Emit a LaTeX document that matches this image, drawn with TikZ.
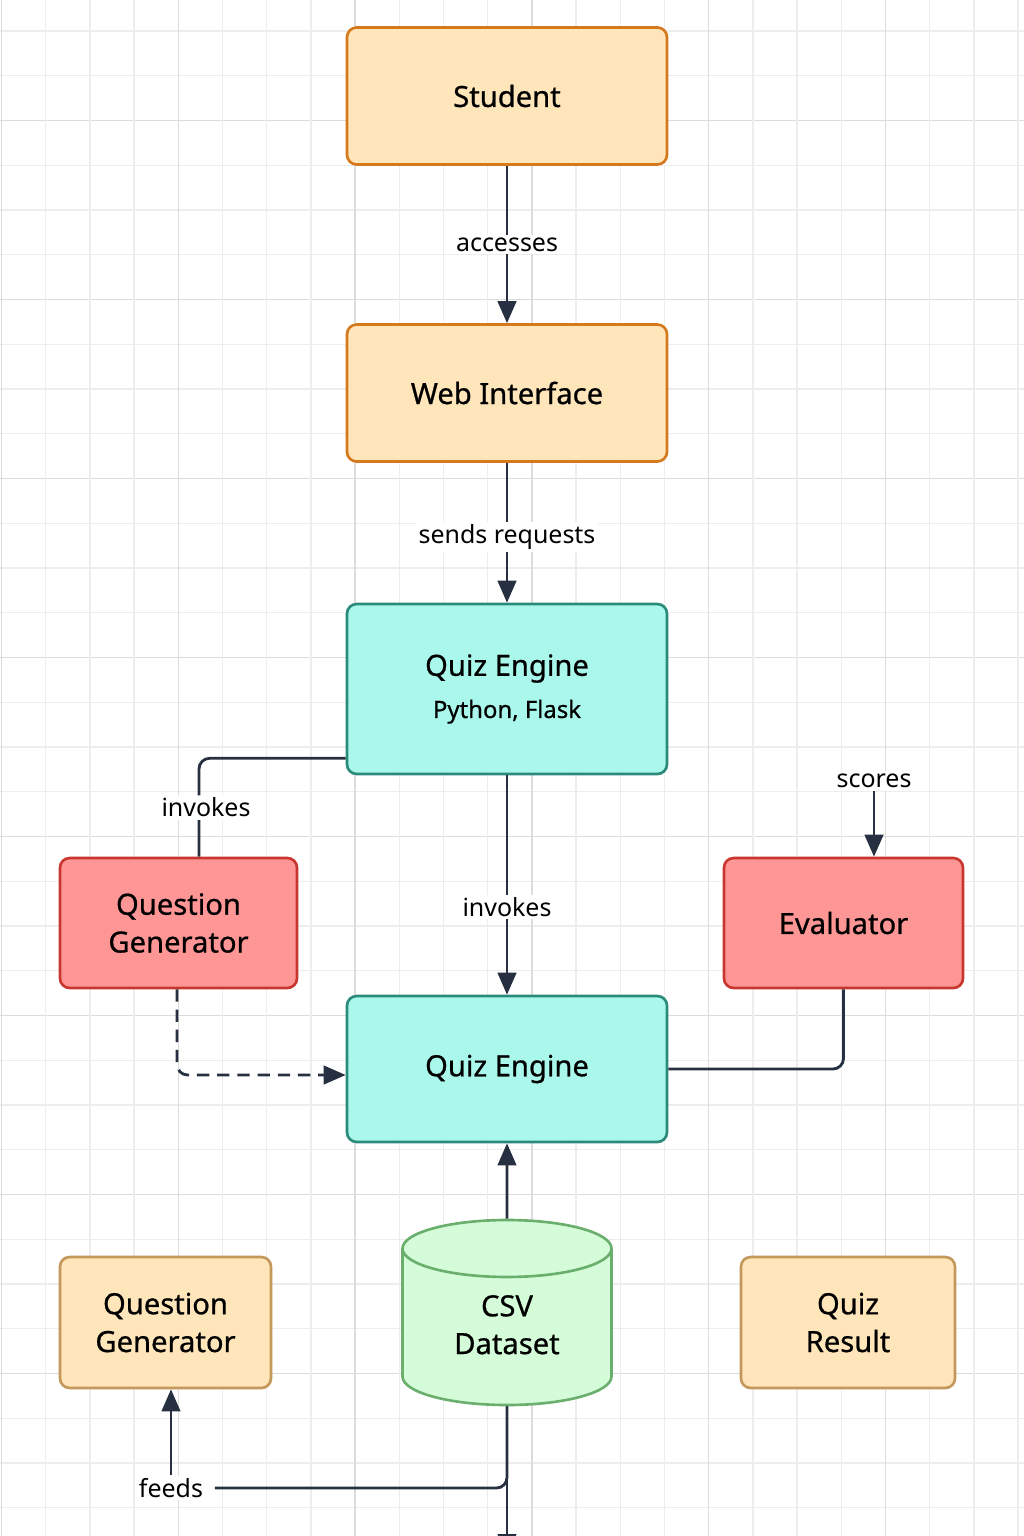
\documentclass[tikz,border=0pt]{standalone}
\usepackage{fontspec}
\setmainfont{Noto Sans}
\newfontfamily\titlefont[FakeBold=0.7]{Noto Sans}
\usetikzlibrary{arrows.meta,shapes.geometric}

\definecolor{userfill}{HTML}{FEE5BA}
\definecolor{userline}{HTML}{D6791C}
\definecolor{storeline}{HTML}{C4975A}
\definecolor{enginefill}{HTML}{A9F8EB}
\definecolor{engineline}{HTML}{2C8A7A}
\definecolor{logicfill}{HTML}{FF9696}
\definecolor{logicline}{HTML}{C8362F}
\definecolor{csvfill}{HTML}{D5FCD9}
\definecolor{csvline}{HTML}{6BAF6E}
\definecolor{linkcol}{HTML}{263040}
\definecolor{gridminor}{HTML}{EDEDED}
\definecolor{gridmajor}{HTML}{DCDCDC}

\newcommand{\pxu}{0.02cm}

\tikzset{
  box/.style={draw,rounded corners=5.5pt,line width=1.5pt,align=center,
    inner sep=0pt,font=\titlefont\fontsize{16.6}{21.5}\selectfont},
  userbox/.style={box,fill=userfill,draw=userline,minimum width=320*\pxu,minimum height=137*\pxu},
  storebox/.style={box,fill=userfill,draw=storeline,minimum height=131*\pxu},
  enginebox/.style={box,fill=enginefill,draw=engineline,minimum width=320*\pxu},
  logicbox/.style={box,fill=logicfill,draw=logicline,minimum height=130*\pxu},
  link/.style={draw=linkcol,line width=1.6pt},
  arr/.style={link,-{Triangle[length=12.5pt,width=10.5pt]}},
  lbl/.style={fill=white,inner sep=1.5pt,font=\fontsize{14.2}{17}\selectfont}
}

\begin{document}
\begin{tikzpicture}[x=0.02cm,y=-0.02cm]
  % page and grid
  \fill[white] (0,0) rectangle (1024,1536);
  \useasboundingbox (0,0) rectangle (1024,1536);
  \foreach \k in {0,...,33} {
    \pgfmathsetmacro{\gy}{31+44.75*\k}
    \pgfmathtruncatemacro{\gm}{mod(\k,4)}
    \ifnum\gm=2
      \draw[gridmajor,line width=0.9pt] (0,\gy) -- (1024,\gy);
    \else
      \draw[gridminor,line width=0.8pt] (0,\gy) -- (1024,\gy);
    \fi
  }
  \foreach \k in {0,...,23} {
    \pgfmathsetmacro{\gx}{1.5+44.2*\k}
    \pgfmathtruncatemacro{\gm}{mod(\k,4)}
    \ifnum\gm=0
      \draw[gridmajor,line width=0.9pt] (\gx,0) -- (\gx,1536);
    \else
      \draw[gridminor,line width=0.8pt] (\gx,0) -- (\gx,1536);
    \fi
  }

  % boxes
  \node[userbox] (student) at (507,96) {Student};
  \node[userbox] (web) at (507,393) {Web Interface};
  \node[enginebox,minimum height=170*\pxu] (engine) at (507,689)
    {Quiz Engine\\[2.5pt]{\fontsize{13.6}{15}\selectfont Python, Flask}};
  \node[logicbox,minimum width=237*\pxu] (qgen) at (178.5,923) {Question\\Generator};
  \node[logicbox,minimum width=239*\pxu] (eval) at (843.5,923) {Evaluator};
  \node[enginebox,minimum height=146*\pxu] (core) at (507,1069) {Quiz Engine};
  \node[cylinder,shape border rotate=90,aspect=0.54,draw=csvline,line width=1.5pt,
    cylinder uses custom fill,cylinder body fill=csvfill,cylinder end fill=csvfill,
    minimum width=209*\pxu,minimum height=185*\pxu,inner sep=0pt,align=center,
    anchor=shape center,font=\titlefont\fontsize{16.6}{21.5}\selectfont]
    (csv) at (507,1312.5) {\mbox{}\\[-12.5pt]CSV\\Dataset};
  \node[storebox,minimum width=211*\pxu] (qgen2) at (165.5,1322.5) {Question\\Generator};
  \node[storebox,minimum width=214*\pxu] (result) at (848,1322.5) {Quiz\\Result};

  % connectors
  \draw[arr] (student) -- node[lbl] {accesses} (web);
  \draw[arr] (web) -- node[lbl,pos=0.53] {sends requests} (engine);
  \draw[link,rounded corners=6pt] ([yshift=0.34cm]engine.south west)
    -| node[lbl,pos=0.75,xshift=7*\pxu] {invokes} ([xshift=0.41cm]qgen.north);
  \draw[arr] (engine) -- node[lbl,pos=0.6] {invokes} (core);
  \node[lbl] (scores) at (874,781) {scores};
  \draw[arr] (scores.south) -- (scores.south |- eval.north);
  \draw[link,rounded corners=6pt] (eval.south) |- (core.east);
  \draw[arr,dashed,dash pattern=on 7pt off 4.5pt,rounded corners=6pt]
    ([xshift=-1.5*\pxu]qgen.south) |- ([yshift=-6*\pxu]core.west);
  \draw[arr] (csv) -- (core);
  \coordinate (exit) at (507,1556);
  \draw[arr] (csv.south) -- (exit);
  \node[lbl] (feeds) at (171,1488) {feeds};
  \draw[arr] (feeds.north) -- (feeds.north |- qgen2.south);
  \draw[link,rounded corners=6pt,shorten <=5pt] (feeds.east) -| (csv.south);
\end{tikzpicture}
\end{document}
